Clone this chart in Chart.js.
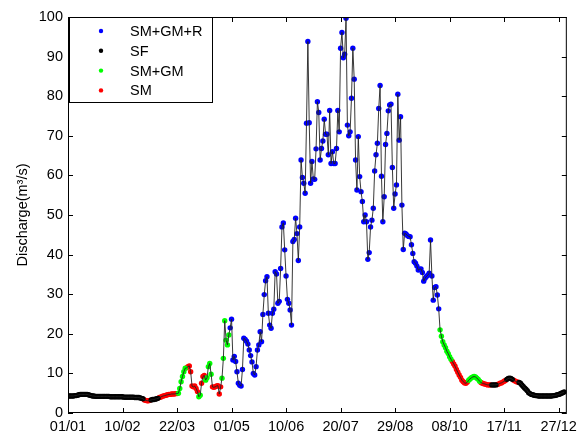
<!DOCTYPE html>
<html>
<head>
<meta charset="utf-8">
<script src="https://cdn.jsdelivr.net/npm/chart.js@4.4.1/dist/chart.umd.min.js"></script>
<style>
  html, body { margin: 0; padding: 0; background: #fff; }
  canvas { display: block; }
</style>
</head>
<body>
<canvas id="dischargeChart" width="582" height="437"></canvas>
<script>
// Daily discharge (m3/s), index 0 = 01/01
const discharge = [
  4.3, 4.3, 4.3, 4.3, 4.3, 4.4, 4.4, 4.5, 4.6, 4.7,
  4.7, 4.7, 4.7, 4.7, 4.7, 4.6, 4.5, 4.4, 4.3, 4.3,
  4.2, 4.2, 4.2, 4.2, 4.2, 4.2, 4.2, 4.2, 4.2, 4.2,
  4.2, 4.1, 4.1, 4.1, 4.1, 4.1, 4.1, 4.1, 4.1, 4.1,
  4.1, 4.0, 4.0, 4.0, 4.0, 4.0, 4.0, 4.0, 4.0, 3.9,
  3.9, 3.9, 3.9, 3.8, 3.7, 3.6,
  3.3, 3.2, 3.1, 3.1, 3.2,
  3.3, 3.4, 3.4, 3.5, 3.6, 3.7,
  3.9, 4.0, 4.2, 4.3, 4.4, 4.5, 4.6, 4.7, 4.7, 4.8, 4.8, 4.8, 4.9, 4.9,
  5.0, 6.2, 7.9, 9.2, 10.4, 11.3,
  11.4, 11.7, 11.9, 10.4, 6.8, 6.6, 6.8, 6.2, 5.4,
  4.1, 4.5,
  7.5, 9.2, 9.5,
  8.3, 8.9, 11.7, 12.5, 9.8,
  6.6, 6.5, 6.6, 6.8, 6.9, 4.8, 6.6,
  8.8, 13.8, 23.3, 18.4, 17.2, 19.7,
  21.5, 23.7, 13.4, 14.3, 13.0, 10.4, 7.5, 7.0, 6.8, 11.0,
  18.9, 18.6, 18.1, 17.4, 15.9, 14.5, 12.9, 10.0, 9.6, 11.7,
  15.9, 17.2, 20.5, 18.0, 24.9, 29.9, 33.4, 34.4, 25.2, 22.2,
  21.4, 25.2, 26.2, 35.7, 35.1, 27.7, 28.2, 36.5, 47.0, 48.0,
  41.2, 34.6, 28.7, 27.7, 26.0, 22.2, 43.3, 43.8, 49.2, 45.3,
  38.5, 47.0, 63.9, 59.5, 58.0, 55.5, 73.2, 93.8, 73.3, 58.0,
  63.5, 59.1, 59.0, 66.7, 78.6, 75.9, 63.9, 66.8, 68.7, 74.2,
  70.4, 70.4, 65.2, 76.4, 63.0, 66.0, 63.0, 63.0, 66.8, 76.4,
  71.0, 92.1, 96.1, 89.7, 90.6, 99.7, 72.7, 70.0, 71.0, 79.5,
  92.1, 84.3, 63.9, 56.3, 69.8, 59.7, 55.9, 53.4, 48.3, 50.0,
  48.3, 38.8, 40.5, 47.0, 48.7, 51.7, 61.1, 65.2, 68.1, 76.9,
  82.7, 59.8, 48.3, 54.6, 67.8, 70.6, 76.3, 77.8, 78.0, 62.0,
  51.7, 55.3, 57.6, 80.5, 68.9, 74.8, 52.5, 41.3, 45.4, 45.2,
  44.8, 44.6, 44.5, 42.5, 40.3, 38.2, 37.8, 37.1, 36.1, 36.3,
  36.4, 35.5, 33.3, 34.0, 34.5, 34.8, 35.3, 43.7, 34.6, 28.5,
  31.7, 31.9, 29.8, 26.3,
  21.0, 19.4, 18.0, 17.2, 16.5, 15.6, 15.0, 14.2, 13.6,
  13.0, 12.4, 11.8, 11.0, 10.3, 9.6, 9.0, 8.3, 7.9, 7.6, 7.5, 7.8,
  8.3, 8.6, 8.9, 9.1, 9.2, 9.1, 8.8, 8.5, 8.0,
  7.7, 7.5, 7.4, 7.3, 7.2, 7.1, 7.1, 7.1,
  7.1, 7.1, 7.1, 7.1,
  7.2, 7.3, 7.5, 7.6, 7.8, 8.0, 8.2,
  8.5, 8.7, 8.8, 8.7, 8.5,
  8.3, 8.1, 7.9, 7.8,
  7.7, 7.5, 7.1, 6.7, 6.3, 6.0, 5.6, 5.1, 4.9, 4.7, 4.6, 4.5, 4.4, 4.4,
  4.3, 4.3, 4.3, 4.3, 4.3, 4.3, 4.3, 4.3, 4.3, 4.3, 4.3,
  4.4, 4.4, 4.5, 4.6, 4.7, 4.8, 5.0, 5.1, 5.3
];

// Runs of consecutive days and the model combination used for each
const regimeRuns = [
  ['SF', 56], ['SM', 5], ['SF', 6], ['SM', 14], ['SM+GM', 6], ['SM', 9],
  ['SM+GM', 2], ['SM', 3], ['SM+GM', 5], ['SM', 7], ['SM+GM', 6],
  ['SM+GM+R', 154], ['SM+GM', 9], ['SM', 12], ['SM+GM', 9], ['SM', 8],
  ['SF', 4], ['SM', 7], ['SF', 5], ['SM', 4], ['SF', 34]
];

const regimeNames = ['SM+GM+R', 'SF', 'SM+GM', 'SM'];
const regimeColors = ['#0000ff', '#000000', '#00ff00', '#ff0000'];

const xTickDays = [0, 40, 80, 120, 160, 200, 240, 280, 320, 360];
const xTickLabels = ['01/01', '10/02', '22/03', '01/05', '10/06', '20/07', '29/08', '08/10', '17/11', '27/12'];
const yTickValues = [0, 10, 20, 30, 40, 50, 60, 70, 80, 90, 100];

const FONT = 'Liberation Sans, Arial, sans-serif';

// expand the runs to one label per day
const regime = [];
regimeRuns.forEach(([name, n]) => {
  for (let i = 0; i < n; i++) regime.push(name);
});

const linePoints = discharge.map((v, i) => ({ x: i, y: v }));

const pointSets = regimeNames.map((name, k) => ({
  type: 'scatter',
  label: name,
  data: linePoints.filter((p, i) => regime[i] === name),
  backgroundColor: regimeColors[k],
  pointRadius: 2.7,
  pointBorderWidth: 0,
  pointHoverRadius: 2.7,
  order: 2
}));

// box around the axes, inward ticks on all sides, legend in the corner
const framePlugin = {
  id: 'frame',
  afterDatasetsDraw(chart) {
    const { ctx, chartArea: a, scales: { x, y } } = chart;
    ctx.save();
    ctx.strokeStyle = '#000';
    ctx.lineWidth = 1;
    ctx.strokeRect(a.left + 0.5, a.top + 0.5, a.right - a.left - 1, a.bottom - a.top - 1);

    const len = 5;
    ctx.beginPath();
    xTickDays.forEach(d => {
      const px = Math.round(x.getPixelForValue(d)) + 0.5;
      ctx.moveTo(px, a.bottom); ctx.lineTo(px, a.bottom - len);
      ctx.moveTo(px, a.top); ctx.lineTo(px, a.top + len);
    });
    yTickValues.forEach(v => {
      const py = Math.round(y.getPixelForValue(v)) + 0.5;
      ctx.moveTo(a.left, py); ctx.lineTo(a.left + len, py);
      ctx.moveTo(a.right, py); ctx.lineTo(a.right - len, py);
    });
    ctx.stroke();

    // legend
    const lx = a.left + 1, ly = a.top, lw = 143, lh = 85;
    ctx.fillStyle = '#fff';
    ctx.fillRect(lx, ly, lw, lh);
    ctx.strokeRect(lx + 0.5, ly + 0.5, lw, lh);
    ctx.font = '14.5px ' + FONT;
    ctx.textBaseline = 'alphabetic';
    ctx.textAlign = 'left';
    regimeNames.forEach((name, k) => {
      const cy = ly + 14 + k * 19.8;
      ctx.fillStyle = regimeColors[k];
      ctx.beginPath();
      ctx.arc(lx + 32, cy, 2.2, 0, Math.PI * 2);
      ctx.fill();
      ctx.fillStyle = '#000';
      ctx.fillText(name, lx + 61, cy + 5);
    });
    ctx.restore();
  }
};

new Chart(document.getElementById('dischargeChart'), {
  type: 'line',
  data: {
    datasets: [
      {
        label: 'discharge',
        data: linePoints,
        borderColor: '#222',
        borderWidth: 0.9,
        pointRadius: 0,
        tension: 0,
        order: 1
      },
      ...pointSets
    ]
  },
  options: {
    responsive: false,
    animation: false,
    devicePixelRatio: 1,
    layout: { padding: { top: 17, right: 13, left: 0, bottom: 0 } },
    plugins: {
      legend: { display: false },
      tooltip: { enabled: false }
    },
    scales: {
      x: {
        type: 'linear',
        min: 0,
        max: 366,
        grid: { display: false, drawTicks: false },
        border: { display: false },
        afterBuildTicks: scale => {
          scale.ticks = xTickDays.map(v => ({ value: v }));
        },
        afterFit: scale => { scale.height = 24; },
        ticks: {
          autoSkip: false,
          maxRotation: 0,
          padding: 5,
          color: '#000',
          font: { family: FONT, size: 14.5 },
          callback: value => xTickLabels[xTickDays.indexOf(value)]
        }
      },
      y: {
        min: 0,
        max: 100,
        grid: { display: false, drawTicks: false },
        border: { display: false },
        afterBuildTicks: scale => {
          scale.ticks = yTickValues.map(v => ({ value: v }));
        },
        afterFit: scale => { scale.width = 68; },
        ticks: {
          padding: 5,
          color: '#000',
          font: { family: FONT, size: 14.5 }
        },
        title: {
          display: true,
          text: 'Discharge(m³/s)',
          color: '#000',
          font: { family: FONT, size: 14.5 },
          padding: { top: 14, bottom: 0 }
        }
      }
    }
  },
  plugins: [framePlugin]
});
</script>
</body>
</html>
